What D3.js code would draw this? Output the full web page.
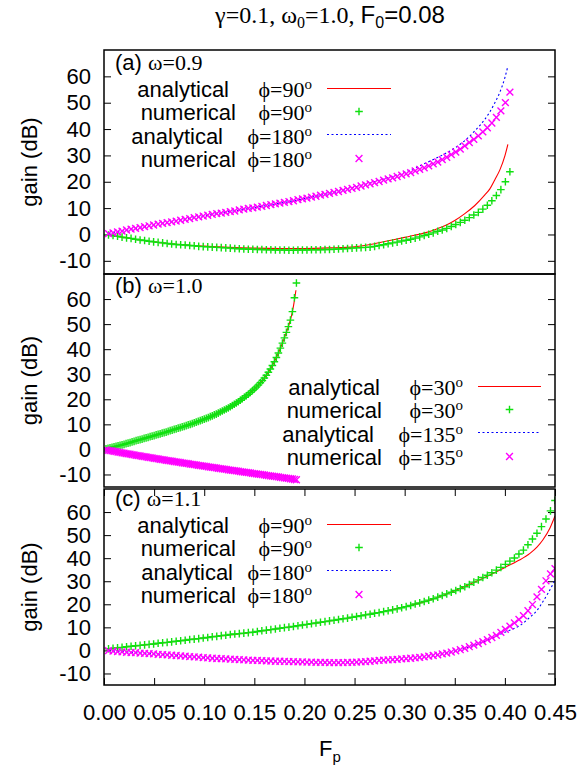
<!DOCTYPE html>
<html>
<head>
<meta charset="utf-8">
<script src="https://cdn.jsdelivr.net/npm/d3@7"></script>
<style>
body { margin: 0; background: #fff; }
text { fill: #000; }
</style>
</head>
<body>
<svg id="chart" width="581" height="766"></svg>
<script>
// ---- data ----
var fpTicks = [0, 0.05, 0.10, 0.15, 0.20, 0.25, 0.30, 0.35, 0.40, 0.45];
var gainTicks = [-10, 0, 10, 20, 30, 40, 50, 60];
var omegaLabels = ['0.9', '1.0', '1.1'];
var legendWords = ['analytical', 'numerical', 'analytical', 'numerical'];
var phiA = ['90', '90', '180', '180'];
var phiB = ['30', '30', '135', '135'];
var phiC = ['90', '90', '180', '180'];

// numerical points are on a regular Fp grid
var stepA = 0.0045, stepB = 0.002, stepC = 0.0045;

// (a) omega = 0.9
var aNum90 = [-0.2,-0.4,-0.7,-1.0,-1.3,-1.5,-1.8,-2.1,-2.3,-2.6,
  -2.8,-3.0,-3.2,-3.4,-3.6,-3.8,-3.9,-4.0,-4.2,-4.3,
  -4.5,-4.6,-4.7,-4.8,-4.9,-5.0,-5.1,-5.2,-5.3,-5.4,
  -5.5,-5.6,-5.6,-5.7,-5.7,-5.8,-5.8,-5.9,-5.9,-5.9,
  -6.0,-6.0,-5.9,-5.9,-5.9,-5.8,-5.8,-5.8,-5.7,-5.7,
  -5.6,-5.5,-5.4,-5.3,-5.2,-5.1,-5.0,-4.9,-4.8,-4.5,
  -4.2,-3.9,-3.5,-3.2,-2.9,-2.5,-2.2,-1.8,-1.4,-0.9,
  -0.4,0.1,0.6,1.2,1.7,2.3,3.0,3.8,4.6,5.4,
  6.4,7.4,8.4,9.6,11.1,12.8,14.8,17.0,20.0,23.8];
var aNum180 = [0.3,0.6,1.0,1.3,1.7,2.0,2.3,2.6,3.0,3.3,
  3.6,3.9,4.2,4.5,4.8,5.1,5.4,5.7,6.0,6.4,
  6.7,7.0,7.3,7.6,7.9,8.1,8.4,8.7,8.9,9.3,
  9.6,9.9,10.1,10.4,10.7,11.0,11.3,11.6,11.9,12.2,
  12.5,12.8,13.2,13.5,13.8,14.2,14.5,14.9,15.2,15.6,
  16.0,16.3,16.7,17.1,17.5,17.9,18.4,18.8,19.2,19.7,
  20.1,20.6,21.1,21.5,22.0,22.5,23.0,23.5,24.1,24.7,
  25.3,26.0,26.8,27.5,28.4,29.3,30.3,31.3,32.4,33.6,
  34.9,36.1,37.4,38.9,40.5,42.3,44.4,46.9,50.0,54.0];
var aAn90F = [0.0045,0.025,0.05,0.075,0.1,0.125,0.15,0.175,0.2,0.225,0.25,0.26,0.27,0.28,0.29,0.30,0.31,0.32,0.33,0.34,0.35,0.36,0.37,0.38,0.385,0.39,0.395,0.40,0.403];
var aAn90V = [-0.2,-1.4,-2.8,-3.8,-4.4,-4.9,-5.2,-5.3,-5.3,-5.1,-4.7,-4.2,-3.5,-2.7,-1.9,-1.1,-0.3,0.6,1.8,3.3,5.3,7.9,11.0,15.0,17.3,20.8,24.5,29.8,34.2];
var aAn180F = [0.0045,0.05,0.1,0.15,0.2,0.25,0.275,0.3,0.325,0.34,0.35,0.36,0.37,0.38,0.385,0.39,0.395,0.40,0.403];
var aAn180V = [0.3,3.6,7.1,10.2,13.6,17.9,20.6,23.6,27.8,30.6,32.8,35.6,39.3,43.7,46.5,50.0,54.0,59.5,63.9];

// (b) omega = 1.0
var bNum30 = [0.2,0.4,0.6,0.8,1.0,1.2,1.4,1.6,1.8,2.0,
  2.3,2.5,2.7,3.0,3.2,3.5,3.7,3.9,4.1,4.4,
  4.6,4.8,5.1,5.3,5.5,5.8,6.0,6.2,6.5,6.7,
  6.9,7.2,7.5,7.7,8.0,8.2,8.5,8.7,9.0,9.2,
  9.5,9.8,10.0,10.3,10.6,10.9,11.2,11.5,11.8,12.1,
  12.4,12.7,13.1,13.4,13.8,14.1,14.5,14.9,15.3,15.7,
  16.1,16.5,17.0,17.5,18.0,18.5,19.0,19.6,20.2,20.8,
  21.4,22.0,22.7,23.4,24.1,24.9,25.7,26.6,27.5,28.5,
  29.6,30.8,32.1,33.5,35.0,36.7,38.5,40.4,42.4,44.5,
  46.7,49.0,51.6,55.0,60.5,66.4];
var bNum135 = [-0.2,-0.35,-0.5,-0.6,-0.8,-0.9,-1.1,-1.2,-1.4,-1.5,
  -1.7,-1.8,-1.9,-2.1,-2.2,-2.4,-2.5,-2.6,-2.8,-2.9,
  -3.0,-3.2,-3.3,-3.4,-3.6,-3.7,-3.8,-4.0,-4.1,-4.2,
  -4.4,-4.5,-4.6,-4.7,-4.9,-5.0,-5.1,-5.2,-5.4,-5.5,
  -5.6,-5.7,-5.9,-6.0,-6.1,-6.2,-6.4,-6.5,-6.6,-6.7,
  -6.8,-7.0,-7.1,-7.2,-7.3,-7.4,-7.6,-7.7,-7.8,-7.9,
  -8.0,-8.2,-8.3,-8.4,-8.5,-8.6,-8.7,-8.9,-9.0,-9.1,
  -9.2,-9.3,-9.4,-9.6,-9.7,-9.8,-9.9,-10.0,-10.1,-10.2,
  -10.4,-10.5,-10.6,-10.7,-10.8,-10.9,-11.0,-11.2,-11.3,-11.4,
  -11.5,-11.6,-11.7,-11.8,-12.0,-12.1];
var bAn30F = [0.002,0.01,0.02,0.03,0.04,0.05,0.06,0.07,0.08,0.09,0.1,0.11,0.12,0.13,0.14,0.15,0.16,0.165,0.17,0.175,0.18,0.185,0.188,0.19,0.1915];
var bAn30V = [0.2,1.0,2.0,3.2,4.4,5.5,6.7,8.0,9.2,10.6,12.1,13.8,15.7,18.0,20.8,24.1,28.5,31.4,35.0,39.4,44.5,50.3,55.0,59.5,63.5];
var bAn135F = [0.002,0.01,0.02,0.04,0.06,0.08,0.1,0.12,0.14,0.16,0.18,0.192];
var bAn135V = [-0.2,-0.8,-1.5,-2.9,-4.2,-5.5,-6.7,-7.9,-9.1,-10.2,-11.4,-12.1];

// (c) omega = 1.1
var cNum90 = [0.7,0.9,1.1,1.3,1.6,1.8,2.0,2.2,2.4,2.6,
  2.8,3.1,3.3,3.5,3.7,4.0,4.2,4.4,4.7,4.9,
  5.1,5.4,5.6,5.9,6.1,6.4,6.6,6.9,7.1,7.3,
  7.5,7.7,7.9,8.2,8.5,8.8,9.0,9.3,9.6,9.9,
  10.1,10.4,10.7,11.0,11.3,11.6,11.9,12.2,12.5,12.8,
  13.1,13.4,13.7,14.0,14.4,14.7,15.0,15.4,15.7,16.1,
  16.4,16.8,17.2,17.6,18.0,18.5,19.0,19.5,20.1,20.6,
  21.2,21.8,22.4,23.1,23.8,24.5,25.2,26.0,26.8,27.6,
  28.6,29.6,30.6,31.6,32.6,33.7,34.8,36.0,37.3,38.7,
  40.1,41.8,43.5,45.8,48.3,50.8,53.7,57.0,60.5,65.0];
var cNum180 = [-0.1,-0.3,-0.5,-0.6,-0.8,-0.9,-1.0,-1.2,-1.3,-1.4,
  -1.5,-1.7,-1.8,-1.9,-2.1,-2.2,-2.4,-2.5,-2.7,-2.8,
  -2.9,-3.1,-3.2,-3.4,-3.5,-3.6,-3.7,-3.8,-3.9,-4.0,
  -4.1,-4.2,-4.3,-4.3,-4.4,-4.5,-4.6,-4.7,-4.7,-4.8,
  -4.9,-4.9,-5.0,-5.0,-5.1,-5.1,-5.2,-5.2,-5.2,-5.3,
  -5.3,-5.3,-5.3,-5.2,-5.2,-5.1,-5.0,-4.9,-4.7,-4.5,
  -4.3,-4.2,-4.1,-4.0,-3.9,-3.7,-3.6,-3.4,-3.2,-3.0,
  -2.8,-2.5,-2.2,-1.9,-1.5,-1.2,-0.7,-0.2,0.3,0.9,
  1.6,2.3,3.0,3.8,4.7,5.6,6.5,7.8,9.1,10.5,
  11.9,13.4,15.1,17.2,19.9,23.2,26.5,30.2,33.2,35.5];
var cAn90F = [0.0045,0.05,0.1,0.15,0.2,0.25,0.3,0.325,0.35,0.375,0.392,0.40,0.408,0.415,0.425,0.432,0.438,0.445,0.45];
var cAn90V = [0.7,2.8,5.5,8.0,11.1,14.5,18.9,21.8,25.9,30.6,34.2,36.0,37.7,39.3,42.1,44.8,48.0,53.1,58.3];
var cAn180F = [0.0045,0.05,0.1,0.15,0.2,0.225,0.25,0.275,0.3,0.325,0.35,0.375,0.39,0.4,0.408,0.415,0.425,0.432,0.438,0.443,0.448,0.45];
var cAn180V = [-0.1,-1.5,-3.1,-4.3,-5.0,-5.3,-5.2,-4.4,-3.7,-2.4,-0.3,3.1,5.9,7.9,9.3,10.8,14.4,17.3,21.2,24.8,28.8,30.5];

// ---- drawing ----
var SANS = 'Liberation Sans, Arial, sans-serif';
var SERIF = 'Liberation Serif, Times New Roman, DejaVu Serif, serif';
var RED = '#ff0000', GREEN = '#10e010', BLUE = '#0000ff', MAGENTA = '#ff00ff';
var MW = 1.4; // marker stroke

var svg = d3.select('#chart');
svg.append('rect').attr('width', 581).attr('height', 766).attr('fill', 'white');

var x = d3.scaleLinear().domain([0, 0.45]).range([104, 555]);

function pairs(fs, vs) { return fs.map(function (f, i) { return [f, vs[i]]; }); }
function grid(step, vs) { return vs.map(function (v, i) { return [(i + 1) * step, v]; }); }

var plusPath = 'M-3.8,0H3.8M0,-3.8V3.8';
var crossPath = 'M-3.4,-3.4L3.4,3.4M-3.4,3.4L3.4,-3.4';

var panels = [
  { top: 50, bottom: 274, labelY: 70, label: '(a) ', omega: omegaLabels[0], phi: phiA,
    an1: pairs(aAn90F, aAn90V), num1: grid(stepA, aNum90),
    an2: pairs(aAn180F, aAn180V), num2: grid(stepA, aNum180),
    legBase: 97, phiEnd: 312, wordEnd: [229, 236, 223, 236], sx1: 327, sx2: 391, xticks: false },
  { top: 274, bottom: 487, labelY: 293, label: '(b) ', omega: omegaLabels[1], phi: phiB,
    an1: pairs(bAn30F, bAn30V), num1: grid(stepB, bNum30),
    an2: pairs(bAn135F, bAn135V), num2: grid(stepB, bNum135),
    legBase: 395, phiEnd: 463, wordEnd: [380, 382, 374, 382], sx1: 478, sx2: 541, xticks: false },
  { top: 489, bottom: 685, labelY: 506, label: '(c) ', omega: omegaLabels[2], phi: phiC,
    an1: pairs(cAn90F, cAn90V), num1: grid(stepC, cNum90),
    an2: pairs(cAn180F, cAn180V), num2: grid(stepC, cNum180),
    legBase: 533, phiEnd: 312, wordEnd: [229, 236, 233, 236], sx1: 327, sx2: 391, xticks: true }
];

function styleAxis(a) {
  a.select('.domain').remove();
  a.selectAll('line').attr('stroke', '#000').attr('stroke-width', 1);
  a.selectAll('text').attr('font-family', SANS).attr('font-size', 22).attr('fill', '#000');
}

panels.forEach(function (p, pi) {
  var y = d3.scaleLinear().domain([-15, 70]).range([p.bottom, p.top]);
  var g = svg.append('g');

  var clipId = 'clip' + pi;
  svg.append('clipPath').attr('id', clipId).append('rect')
    .attr('x', 104).attr('y', p.top).attr('width', 451).attr('height', p.bottom - p.top);

  // y axes, ticks inward on both sides
  styleAxis(g.append('g').attr('transform', 'translate(104,0)')
    .call(d3.axisLeft(y).tickValues(gainTicks).tickSize(-7).tickSizeOuter(0).tickPadding(13)
      .tickFormat(function (d) { return String(d); })));
  styleAxis(g.append('g').attr('transform', 'translate(555,0)')
    .call(d3.axisRight(y).tickValues(gainTicks).tickSize(-7).tickSizeOuter(0).tickFormat('')));

  if (p.xticks) {
    styleAxis(g.append('g').attr('transform', 'translate(0,' + p.bottom + ')')
      .call(d3.axisBottom(x).tickValues(fpTicks).tickSize(-7).tickSizeOuter(0).tickPadding(19)
        .tickFormat(d3.format('.2f'))));
    styleAxis(g.append('g').attr('transform', 'translate(0,' + p.top + ')')
      .call(d3.axisTop(x).tickValues(fpTicks).tickSize(-7).tickSizeOuter(0).tickFormat('')));
  }

  // y label
  svg.append('text').attr('transform', 'translate(37,' + ((p.top + p.bottom) / 2) + ') rotate(-90)')
    .attr('text-anchor', 'middle').attr('font-family', SANS).attr('font-size', 22).text('gain (dB)');

  // panel label
  var lab = svg.append('text').attr('x', 115).attr('y', p.labelY).attr('font-size', 22);
  lab.append('tspan').attr('font-family', SANS).text(p.label);
  lab.append('tspan').attr('font-family', SERIF).text('\u03C9=' + p.omega);

  // curves
  var line = d3.line().x(function (d) { return x(d[0]); }).y(function (d) { return y(d[1]); })
    .curve(d3.curveMonotoneX);
  var plot = svg.append('g').attr('clip-path', 'url(#' + clipId + ')');

  plot.append('path').datum(p.an1).attr('d', line).attr('fill', 'none')
    .style('stroke', RED).attr('stroke-width', 1.1);
  plot.selectAll('.n1').data(p.num1).enter().append('path').attr('class', 'n1')
    .attr('d', plusPath).attr('transform', function (d) { return 'translate(' + x(d[0]) + ',' + y(d[1]) + ')'; })
    .style('stroke', GREEN).attr('stroke-width', MW).attr('fill', 'none');
  plot.append('path').datum(p.an2).attr('d', line).attr('fill', 'none')
    .style('stroke', BLUE).attr('stroke-width', 1.1).attr('stroke-dasharray', '2,2.5');
  plot.selectAll('.n2').data(p.num2).enter().append('path').attr('class', 'n2')
    .attr('d', crossPath).attr('transform', function (d) { return 'translate(' + x(d[0]) + ',' + y(d[1]) + ')'; })
    .style('stroke', MAGENTA).attr('stroke-width', MW).attr('fill', 'none');

  // legend
  legendWords.forEach(function (w, i) {
    var by = p.legBase + i * 23.4;
    svg.append('text').attr('x', p.wordEnd[i]).attr('y', by).attr('text-anchor', 'end')
      .attr('font-family', SANS).attr('font-size', 22).text(w);
    var t = svg.append('text').attr('x', p.phiEnd).attr('y', by).attr('text-anchor', 'end')
      .attr('font-family', SERIF).attr('font-size', 22);
    t.append('tspan').text('\u03D5=' + p.phi[i]);
    t.append('tspan').attr('font-size', 15).attr('dy', -8).text('o');
    var sy = Math.round(by - 9.5) + 0.5;
    var mx = (p.sx1 + p.sx2) / 2;
    if (i === 0 || i === 2) {
      svg.append('path').attr('d', 'M' + p.sx1 + ',' + sy + 'H' + p.sx2)
        .style('stroke', i === 0 ? RED : BLUE).attr('stroke-width', 1.1).attr('fill', 'none')
        .attr('stroke-dasharray', i === 2 ? '2,2.5' : null);
    } else {
      svg.append('path').attr('d', i === 1 ? plusPath : crossPath)
        .attr('transform', 'translate(' + mx + ',' + sy + ')')
        .style('stroke', i === 1 ? GREEN : MAGENTA).attr('stroke-width', MW).attr('fill', 'none');
    }
  });

  // border
  svg.append('rect').attr('x', 104).attr('y', p.top).attr('width', 451).attr('height', p.bottom - p.top)
    .attr('fill', 'none').attr('stroke', '#000').attr('stroke-width', 1.5);
});

// title
var title = svg.append('text').attr('x', 330).attr('y', 23).attr('text-anchor', 'middle').attr('font-size', 24);
title.append('tspan').attr('font-family', SERIF).text('\u03B3=0.1, \u03C9');
title.append('tspan').attr('font-family', SERIF).attr('font-size', 16).attr('dy', 5).text('0');
title.append('tspan').attr('font-family', SERIF).attr('dy', -5).text('=1.0, ');
title.append('tspan').attr('font-family', SANS).text('F');
title.append('tspan').attr('font-family', SANS).attr('font-size', 16).attr('dy', 5).text('0');
title.append('tspan').attr('font-family', SANS).attr('dy', -5).text('=0.08');

// x label
var xl = svg.append('text').attr('x', 330).attr('y', 756).attr('text-anchor', 'middle')
  .attr('font-family', SANS).attr('font-size', 22);
xl.append('tspan').text('F');
xl.append('tspan').attr('font-size', 15).attr('dy', 6).text('p');
</script>
</body>
</html>
